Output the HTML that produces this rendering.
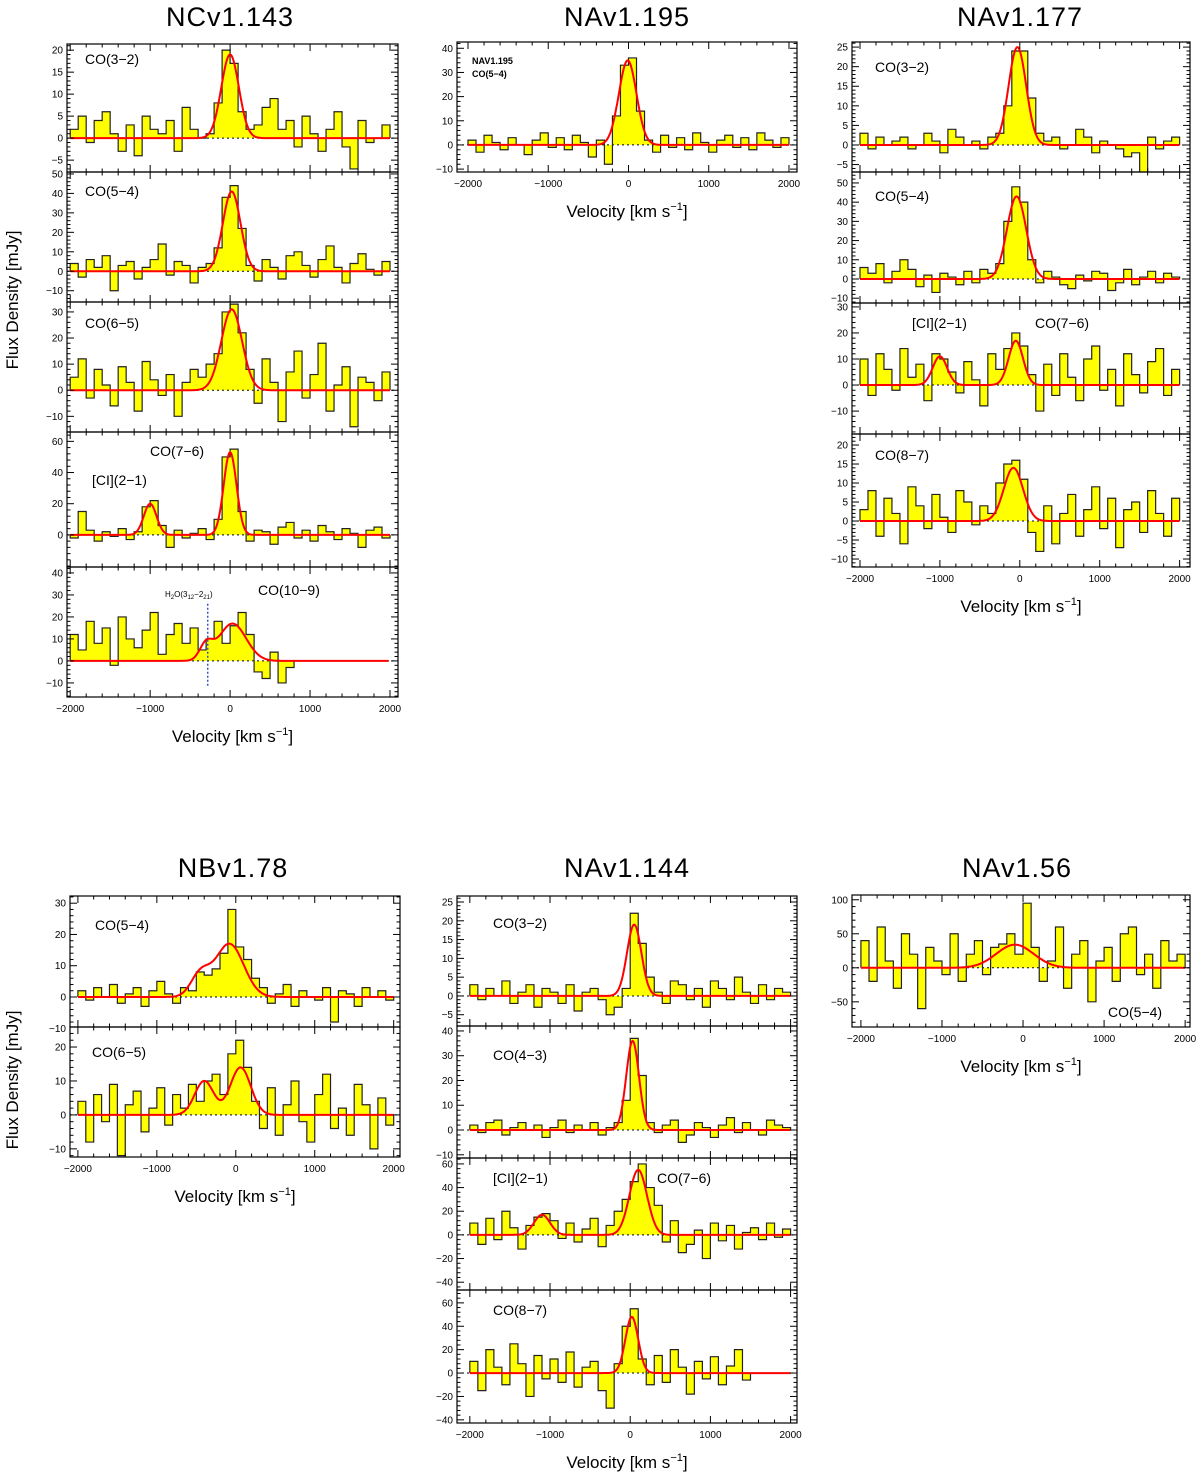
<!DOCTYPE html>
<html><head><meta charset="utf-8">
<style>
html,body{margin:0;padding:0;background:#fff;}
svg{display:block;font-family:"Liberation Sans",sans-serif;}
</style></head>
<body>
<svg id="fig" width="1200" height="1477" viewBox="0 0 1200 1477" xmlns="http://www.w3.org/2000/svg"></svg>
<script>
// ---- data: flux values per 100 km/s bin starting at -2000 km/s ----
const nc143_co32 = [2,5,-1,4,6,1,-3,3,-4,5,2,1,4,-3,7,2,0,1,8,20,17,6,2,3,7,9,2,4,-2,5,1,-3,2,6,-2,-7,4,-1,0,3];
const nc143_co54 = [4,-3,6,2,8,-10,3,5,-4,2,6,14,-2,5,3,-6,2,4,12,38,44,22,3,-5,6,2,-4,8,10,3,-3,6,13,2,-6,4,9,1,-2,5];
const nc143_co65 = [5,12,-3,8,2,-6,9,3,-8,11,4,-2,6,-10,3,8,5,10,14,30,33,22,8,-5,12,3,-12,7,15,-3,6,18,-8,2,9,-14,5,3,-4,7];
const nc143_co76 = [-2,15,3,-4,2,-1,4,-3,2,18,22,6,-8,3,-2,1,4,-3,10,50,55,15,-4,3,2,-6,5,8,-2,3,-4,6,2,-3,4,1,-8,3,5,-2];
const nc143_co109 = [12,5,18,8,15,-2,20,10,6,14,22,3,12,17,8,15,5,10,18,8,16,22,12,-5,-8,4,-10,-3];
const na195_co54 = [2,-3,4,1,-2,3,0,-4,2,5,-1,3,-2,4,1,-5,2,-8,12,33,36,14,2,-3,4,-1,3,-2,5,1,-3,2,4,-1,3,-2,5,2,-1,3];
const na177_co32 = [3,-1,2,0,1,2,-1,0,3,1,-2,4,2,0,1,-1,2,3,10,24,24,12,3,1,2,-1,0,4,2,-2,1,0,-1,-3,-2,-7,2,-1,1,2];
const na177_co54 = [6,3,8,-2,4,10,5,-4,2,-7,3,1,-3,4,-2,5,3,8,30,48,40,10,-2,4,1,-3,-5,2,-1,4,3,-6,-2,5,-3,1,4,-2,3,1];
const na177_co76 = [10,-4,12,6,-2,14,3,8,-6,12,10,5,-3,9,2,-8,12,6,14,20,15,4,-10,8,-4,12,3,-6,10,15,-2,6,-8,12,4,-3,9,14,-4,6];
const na177_co87 = [3,8,-4,6,2,-6,9,4,-2,7,1,-3,8,5,-1,4,2,10,15,16,11,-3,-8,4,-6,2,7,-4,3,9,-2,6,-7,3,5,-3,8,2,-4,6];
const nb78_co54 = [2,-1,3,0,4,-2,1,3,-3,2,5,1,-2,3,2,8,7,9,14,28,16,12,6,3,-2,1,4,-3,2,0,-1,3,-8,2,1,-3,3,0,2,-1];
const nb78_co65 = [4,-8,6,-2,9,-12,3,7,-5,2,8,-3,6,2,9,4,10,12,6,18,22,14,4,-4,8,-6,3,10,-2,-8,6,12,-4,2,-6,9,3,-10,5,-3];
const na144_co32 = [3,-1,2,0,4,-2,1,3,-3,2,1,-2,3,-4,1,2,-1,-5,-3,2,22,14,5,1,-2,4,3,-1,2,-3,4,2,-1,5,1,-2,3,-1,2,1];
const na144_co43 = [2,-1,3,4,-2,1,3,0,2,-3,1,4,-1,2,0,3,-2,1,3,12,37,22,3,-1,2,4,-5,-2,3,1,-3,2,5,-1,3,0,-2,4,2,1];
const na144_co76 = [10,-8,14,-4,20,6,-12,8,15,18,12,-3,10,-6,5,14,-10,8,20,30,45,60,40,25,-6,12,-15,-8,4,-20,10,-5,8,-12,2,6,-4,10,-2,5];
const na144_co87 = [10,-15,20,5,-10,25,8,-20,15,-5,12,-8,18,-12,5,10,-15,-30,8,40,55,12,-10,15,-8,20,5,-18,10,-5,14,-10,6,20,-6];
const na56_co54 = [40,-20,60,10,-30,50,20,-60,30,10,-10,50,-20,20,40,-10,30,35,50,20,95,30,-20,10,60,-30,20,40,-50,10,30,-20,50,60,-10,20,-30,40,10,20];
// Gaussian fits: [amplitude, centre km/s, sigma km/s]
const fit_nc143_co32 = [[19,0,110]];
const fit_nc143_co54 = [[41,20,110]];
const fit_nc143_co65 = [[31,20,130]];
const fit_nc143_co76 = [[53,0,80],[20,-1000,80]];
const fit_nc143_co109 = [[17,30,170],[7,-300,80]];
const fit_na195_co54 = [[35,-10,110]];
const fit_na177_co32 = [[25,-30,110]];
const fit_na177_co54 = [[43,-40,120]];
const fit_na177_co76 = [[11,-1000,90],[17,-50,90]];
const fit_na177_co87 = [[14,-80,120]];
const fit_nb78_co54 = [[17,-80,180],[7,-450,120]];
const fit_nb78_co65 = [[10,-400,120],[14,60,130]];
const fit_na144_co32 = [[19,50,90]];
const fit_na144_co43 = [[36,30,80]];
const fit_na144_co76 = [[17,-1100,100],[55,100,110]];
const fit_na144_co87 = [[48,20,80]];
const fit_na56_co54 = [[34,-100,230]];
const xTickLabels = [-2000,-1000,0,1000,2000];

const NS="http://www.w3.org/2000/svg";
const svg=document.getElementById('fig');
function mk(tag,attrs,parent){const e=document.createElementNS(NS,tag);for(const k in attrs)e.setAttribute(k,attrs[k]);(parent||svg).appendChild(e);return e;}

const cols={
 c1:{x0:67,x1:398,vmin:-2040,vmax:2100},
 c2:{x0:457,x1:797,vmin:-2137,vmax:2100},
 c3:{x0:852,x1:1190,vmin:-2100,vmax:2130},
 b1:{x0:70,x1:400,vmin:-2100,vmax:2080},
 b2:{x0:457,x1:797,vmin:-2160,vmax:2080},
 b3:{x0:852,x1:1190,vmin:-2110,vmax:2060}
};
const panels=[
 {name:'ncv1143-co32',c:'c1',y0:44,y1:172,ymin:-7.7,ymax:21.4,yt:[-5,0,5,10,15,20],d:nc143_co32,f:fit_nc143_co32,labels:[['CO(3−2)',85,64]]},
 {name:'ncv1143-co54',c:'c1',y0:172,y1:302,ymin:-15.8,ymax:51,yt:[-10,0,10,20,30,40,50],d:nc143_co54,f:fit_nc143_co54,labels:[['CO(5−4)',85,196]]},
 {name:'ncv1143-co65',c:'c1',y0:302,y1:432,ymin:-16,ymax:33.8,yt:[-10,0,10,20,30],d:nc143_co65,f:fit_nc143_co65,labels:[['CO(6−5)',85,328]]},
 {name:'ncv1143-co76',c:'c1',y0:432,y1:567,ymin:-20.6,ymax:66,yt:[0,20,40,60],d:nc143_co76,f:fit_nc143_co76,labels:[['CO(7−6)',150,456],['[CI](2−1)',92,485]]},
 {name:'ncv1143-co109',c:'c1',y0:567,y1:697,ymin:-16.4,ymax:42.7,yt:[-10,0,10,20,30,40],d:nc143_co109,f:fit_nc143_co109,labels:[['CO(10−9)',258,595]],xaxis:true,h2o:true},
 {name:'nav1195-co54',c:'c2',y0:42,y1:172,ymin:-11.2,ymax:42.6,yt:[-10,0,10,20,30,40],d:na195_co54,f:fit_na195_co54,labels:[],xaxis:true,small:true},
 {name:'nav1177-co32',c:'c3',y0:42,y1:172,ymin:-6.9,ymax:26.3,yt:[-5,0,5,10,15,20,25],d:na177_co32,f:fit_na177_co32,labels:[['CO(3−2)',875,72]]},
 {name:'nav1177-co54',c:'c3',y0:172,y1:303,ymin:-12.5,ymax:55.7,yt:[-10,0,10,20,30,40,50],d:na177_co54,f:fit_na177_co54,labels:[['CO(5−4)',875,201]]},
 {name:'nav1177-co76',c:'c3',y0:303,y1:434,ymin:-18.8,ymax:31.5,yt:[-10,0,10,20,30],d:na177_co76,f:fit_na177_co76,labels:[['[CI](2−1)',912,328],['CO(7−6)',1035,328]]},
 {name:'nav1177-co87',c:'c3',y0:434,y1:567,ymin:-12.1,ymax:22.9,yt:[-10,-5,0,5,10,15,20],d:na177_co87,f:fit_na177_co87,labels:[['CO(8−7)',875,460]],xaxis:true},
 {name:'nbv178-co54',c:'b1',y0:896,y1:1027,ymin:-9.6,ymax:32.3,yt:[-10,0,10,20,30],d:nb78_co54,f:fit_nb78_co54,labels:[['CO(5−4)',95,930]]},
 {name:'nbv178-co65',c:'b1',y0:1027,y1:1157,ymin:-12.4,ymax:25.9,yt:[-10,0,10,20],d:nb78_co65,f:fit_nb78_co65,labels:[['CO(6−5)',92,1057]],xaxis:true},
 {name:'nav1144-co32',c:'b2',y0:896,y1:1026,ymin:-8,ymax:26.6,yt:[-5,0,5,10,15,20,25],d:na144_co32,f:fit_na144_co32,labels:[['CO(3−2)',493,928]]},
 {name:'nav1144-co43',c:'b2',y0:1026,y1:1158,ymin:-11.3,ymax:42,yt:[-10,0,10,20,30,40],d:na144_co43,f:fit_na144_co43,labels:[['CO(4−3)',493,1060]]},
 {name:'nav1144-co76',c:'b2',y0:1158,y1:1290,ymin:-46.6,ymax:65,yt:[-40,-20,0,20,40,60],d:na144_co76,f:fit_na144_co76,labels:[['[CI](2−1)',493,1183],['CO(7−6)',657,1183]]},
 {name:'nav1144-co87',c:'b2',y0:1290,y1:1423,ymin:-42.7,ymax:71,yt:[-40,-20,0,20,40,60],d:na144_co87,f:fit_na144_co87,labels:[['CO(8−7)',493,1315]],xaxis:true},
 {name:'nav156-co54',c:'b3',y0:895,y1:1027,ymin:-87,ymax:107,yt:[-50,0,50,100],d:na56_co54,f:fit_na56_co54,labels:[['CO(5−4)',1108,1017]],xaxis:true}
];

panels.forEach(p=>{
 const c=cols[p.c];
 const X=v=>c.x0+(v-c.vmin)/(c.vmax-c.vmin)*(c.x1-c.x0);
 const Y=f=>p.y1-(f-p.ymin)/(p.ymax-p.ymin)*(p.y1-p.y0);
 const g=mk('g',{});
 
 
 const clipId='clip-'+p.name;
 const cp=mk('clipPath',{id:clipId},g);mk('rect',{x:c.x0,y:p.y0,width:c.x1-c.x0,height:p.y1-p.y0},cp);
 const inner=mk('g',{'clip-path':'url(#'+clipId+')'},g);
 // histogram
 const y0=Y(0);
 let fillD='M'+X(-2000)+','+y0, lineD='';
 p.d.forEach((v,i)=>{
  const a=X(-2000+i*100), b=X(-2000+(i+1)*100), y=Y(v);
  fillD+=' L'+a+','+y+' L'+b+','+y;
  lineD+=(i===0?'M'+a+','+y0+' L'+a+','+y:' L'+a+','+y)+' L'+b+','+y;
 });
 const endV=-2000+p.d.length*100;
 fillD+=' L'+X(endV)+','+y0+' Z';
 lineD+=' L'+X(endV)+','+y0;
 const fp=mk('path',{d:fillD,fill:'#ffff00',stroke:'none'},inner);
 
 
 const zl=mk('line',{x1:c.x0,x2:c.x1,y1:y0,y2:y0,stroke:'#000','stroke-width':1,'stroke-dasharray':'2,3'},inner);
 
 
 const sp=mk('path',{d:lineD,fill:'none',stroke:'#222','stroke-width':1.2},inner);
 
 
 // fit
 let fd='';
 const vEnd=p.xaxis&&p.h2o?1980:2000;
 for(let v=-2000;v<=vEnd;v+=10){
  let s=0;p.f.forEach(g3=>{s+=g3[0]*Math.exp(-0.5*Math.pow((v-g3[1])/g3[2],2));});
  fd+=(v===-2000?'M':' L')+X(v).toFixed(1)+','+Y(s).toFixed(1);
 }
 const fl=mk('path',{d:fd,fill:'none',stroke:'#ff0000','stroke-width':2},inner);
 
 
 if(p.h2o){
  const hl=mk('line',{x1:X(-280),x2:X(-280),y1:Y(26),y2:Y(-12),stroke:'#3355cc','stroke-width':1.5,'stroke-dasharray':'2,2'},g);
  
  
  const ht=mk('text',{x:165,y:597,'font-size':8},g);
  
  
  ht.innerHTML='H<tspan font-size="6" dy="2">2</tspan><tspan dy="-2">O(3</tspan><tspan font-size="6" dy="2">12</tspan><tspan dy="-2">−2</tspan><tspan font-size="6" dy="2">21</tspan><tspan dy="-2">)</tspan>';
 }
 // frame
 const fr=mk('rect',{x:c.x0,y:p.y0,width:c.x1-c.x0,height:p.y1-p.y0,fill:'none',stroke:'#000','stroke-width':1.2},g);
 
 
 // x ticks
 for(let v=-2000;v<=2000;v+=200){
  const major=v%1000===0, L=major?7:3.5;
  mk('line',{x1:X(v),x2:X(v),y1:p.y1,y2:p.y1-L,stroke:'#000'},g);
  mk('line',{x1:X(v),x2:X(v),y1:p.y0,y2:p.y0+L,stroke:'#000'},g);
 }
 if(p.xaxis){
  xTickLabels.forEach(v=>{
   const t=mk('text',{x:X(v),y:p.y1+15,'font-size':10,'text-anchor':'middle'},g);
   
   
   t.textContent=v<0?'−'+(-v):v;
  });
  const xt=mk('text',{x:(c.x0+c.x1)/2,y:p.y1+45,'font-size':17,'text-anchor':'middle'},g);
  
  
  xt.innerHTML='Velocity [km s<tspan font-size="11" dy="-7">−1</tspan><tspan dy="7">]</tspan>';
 }
 // y ticks
 const step=p.yt[1]-p.yt[0];
 for(let v=Math.ceil(p.ymin/(step/5))*(step/5);v<=p.ymax;v+=step/5){
  const vv=Math.round(v*1000)/1000;
  const major=p.yt.some(t=>Math.abs(t-vv)<1e-6), L=major?7:3.5;
  mk('line',{x1:c.x0,x2:c.x0+L,y1:Y(vv),y2:Y(vv),stroke:'#000'},g);
  mk('line',{x1:c.x1,x2:c.x1-L,y1:Y(vv),y2:Y(vv),stroke:'#000'},g);
 }
 p.yt.forEach(v=>{
  const t=mk('text',{x:c.x0-4,y:Y(v)+3.5,'font-size':10,'text-anchor':'end'},g);
  
  
  t.textContent=v<0?'−'+(-v):v;
 });
 p.labels.forEach(l=>{
  const t=mk('text',{x:l[1],y:l[2],'font-size':14},g);
  
  
  t.textContent=l[0];
 });
 if(p.small){
  const t1=mk('text',{x:472,y:64,'font-size':9,'font-weight':'bold'},g);
  
  
  t1.textContent='NAV1.195';
  const t2=mk('text',{x:472,y:77,'font-size':9,'font-weight':'bold'},g);
  
  
  t2.textContent='CO(5−4)';
 }
});

[['NCv1.143',230,26],['NAv1.195',627,26],['NAv1.177',1020,26],['NBv1.78',233,877],['NAv1.144',627,877],['NAv1.56',1017,877]].forEach(t=>{
 const e=mk('text',{x:t[1],y:t[2],'font-size':27,'text-anchor':'middle','letter-spacing':'1'});
 
 
 e.textContent=t[0];
});
[[300],[1080]].forEach(a=>{
 const e=mk('text',{x:0,y:0,'font-size':17,'text-anchor':'middle',transform:'translate(18,'+a[0]+') rotate(-90)'});
 
 
 e.textContent='Flux Density [mJy]';
});
</script>
</body></html>
